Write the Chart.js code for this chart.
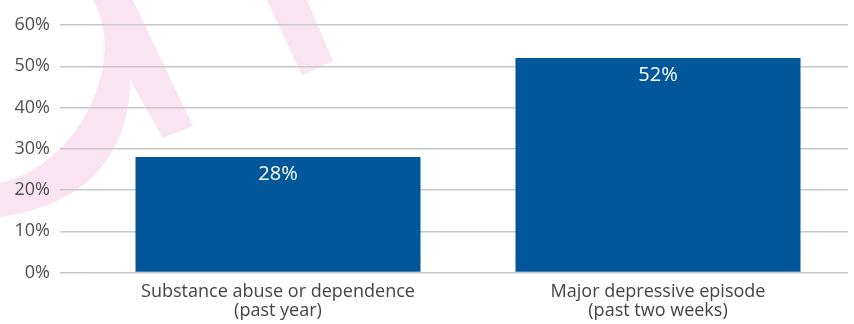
<!DOCTYPE html>
<html>
<head>
<meta charset="utf-8">
<script src="https://cdn.jsdelivr.net/npm/chart.js@4/dist/chart.umd.min.js"></script>
<style>
  html, body { margin: 0; padding: 0; background: #ffffff; }
  #wrap { width: 854px; height: 324px; }
</style>
</head>
<body>
<div id="wrap"><canvas id="c" width="854" height="324"></canvas></div>
<script>
const categories = [
  ["Substance abuse or dependence", "(past year)"],
  ["Major depressive episode", "(past two weeks)"]
];
const values = [28, 52];
const yTicks = [0, 10, 20, 30, 40, 50, 60];

const FONT = "'Open Sans', 'Noto Sans', sans-serif";

const backgroundDeco = {
  id: 'backgroundDeco',
  beforeDraw(chart) {
    const ctx = chart.ctx;
    ctx.save();
    ctx.fillStyle = '#fbe4f1';
    ctx.beginPath();
    ctx.moveTo(93, 0);
    ctx.lineTo(133, 0);
    ctx.lineTo(193, 126);
    ctx.lineTo(163, 138);
    ctx.lineTo(130, 80);
    ctx.bezierCurveTo(130, 150, 90, 205, 0, 217);
    ctx.lineTo(0, 183);
    ctx.bezierCurveTo(80, 165, 128, 60, 93, 0);
    ctx.closePath();
    ctx.fill();
    ctx.beginPath();
    ctx.moveTo(267, 0);
    ctx.lineTo(307, 0);
    ctx.lineTo(333, 61);
    ctx.lineTo(302, 75);
    ctx.closePath();
    ctx.fill();
    ctx.restore();
  }
};

const barLabels = {
  id: 'barLabels',
  afterDatasetsDraw(chart) {
    const ctx = chart.ctx;
    const meta = chart.getDatasetMeta(0);
    ctx.save();
    ctx.fillStyle = '#ffffff';
    ctx.font = '20px ' + FONT;
    ctx.textAlign = 'center';
    ctx.textBaseline = 'middle';
    meta.data.forEach((bar, i) => {
      ctx.fillText(values[i] + '%', bar.x, bar.y + 17.5);
    });
    ctx.restore();
  }
};

new Chart(document.getElementById('c'), {
  type: 'bar',
  data: {
    labels: categories,
    datasets: [{
      data: values,
      backgroundColor: '#02569a',
      borderWidth: 0,
      categoryPercentage: 1.0,
      barPercentage: 0.75
    }]
  },
  options: {
    responsive: false,
    animation: false,
    devicePixelRatio: 1,
    layout: { padding: { top: 25, right: 6, left: 0, bottom: 0 } },
    plugins: { legend: { display: false }, tooltip: { enabled: false } },
    scales: {
      x: {
        grid: { display: false, drawTicks: false, tickLength: 0 },
        border: { display: false },
        afterFit(scale) { scale.height = 51.5; },
        ticks: {
          color: '#444444',
          font: { family: FONT, size: 18, lineHeight: 1.05 },
          padding: 10,
          maxRotation: 0
        }
      },
      y: {
        min: 0,
        max: 60,
        afterFit(scale) { scale.width = 88; },
        afterBuildTicks(scale) { scale.ticks = yTicks.map(v => ({ value: v })); },
        grid: { color: '#c8c8c8', lineWidth: 1.5, tickLength: 28, drawTicks: true },
        border: { display: false },
        ticks: {
          color: '#505050',
          font: { family: FONT, size: 18 },
          padding: 10,
          callback: v => v + '%'
        }
      }
    }
  },
  plugins: [backgroundDeco, barLabels]
});
</script>
</body>
</html>
